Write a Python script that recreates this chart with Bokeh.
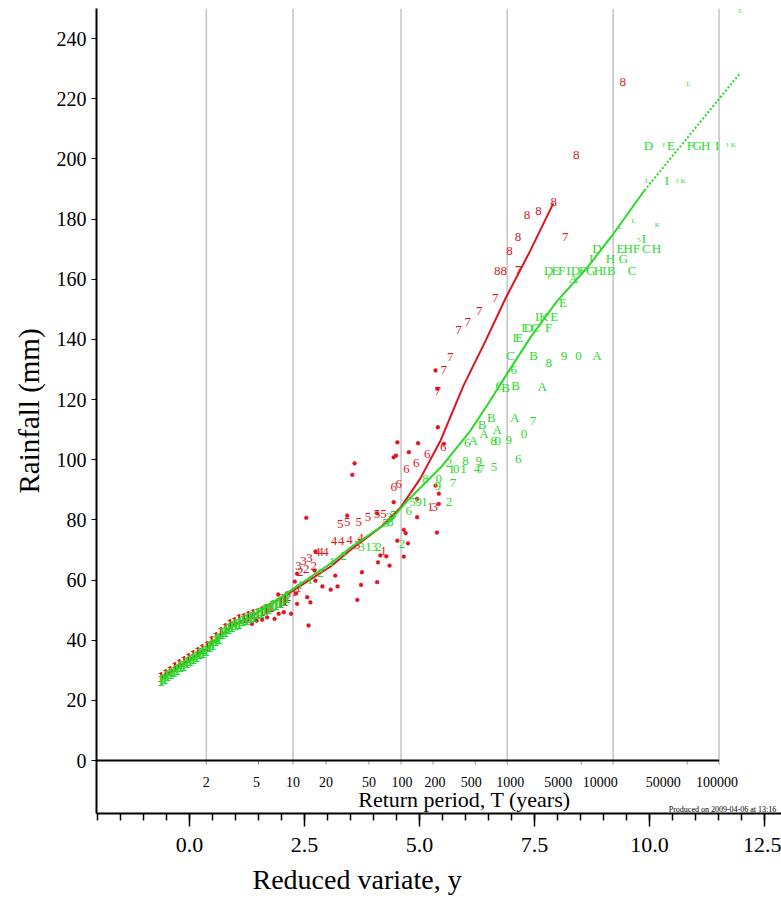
import numpy as np
from bokeh.plotting import figure
from bokeh.models import Range1d, FixedTicker, NumeralTickFormatter, Title
from bokeh.core.properties import value
from bokeh.embed import file_html
from bokeh.resources import INLINE

SERIF = "Liberation Serif"
RED = "#e0141e"
GREEN = "#28da28"
GRID = "#c8c8c8"

# ---------------------------------------------------------------- data
# Return-period scale (years) shown on the inner axis
return_periods = [2, 5, 10, 20, 50, 100, 200, 500, 1000, 5000, 10000, 50000, 100000]
return_period_labels = [str(t) for t in return_periods]
gridline_periods = [2, 10, 100, 1000, 10000, 100000]

rain_ticks = [0, 20, 40, 60, 80, 100, 120, 140, 160, 180, 200, 220, 240]
variate_ticks = [0.0, 2.5, 5.0, 7.5, 10.0, 12.5]
variate_minor_ticks = [-2.0, -1.5, -1.0, -0.5, 0.0, 0.5, 1.0, 1.5, 2.0, 2.5, 3.0, 3.5,
                       4.0, 4.5, 5.0, 5.5, 6.0, 6.5, 7.0, 7.5, 8.0, 8.5, 9.0, 9.5,
                       10.0, 10.5, 11.0, 11.5, 12.0, 12.5]

# fitted growth curves (reduced variate y, rainfall mm)
red_line_y = [-0.63, 0.35, 0.89, 1.33, 2.20, 3.07, 3.50, 4.15, 4.59, 5.02, 5.46,
              5.96, 6.44, 6.87, 7.41, 7.91]
red_line_rain = [27.3, 37.0, 44.5, 47.8, 56.0, 64.5, 70.0, 77.5, 84.1, 93.8, 106.4,
                 124.7, 139.6, 153.6, 169.5, 185.2]

green_line_y = [-0.63, 0.35, 0.89, 1.33, 2.20, 3.07, 3.50, 4.37, 4.74, 5.46, 6.11,
                6.54, 6.91, 7.41, 8.00, 8.65, 9.22, 9.89]
green_line_rain = [26.6, 36.6, 44.2, 47.5, 56.5, 65.5, 70.8, 79.8, 86.4, 97.4, 109.7,
                   119.7, 128.7, 140.6, 152.9, 163.9, 175.2, 189.5]

# extrapolated part of the green curve
green_ext_y = [9.89, 11.98]
green_ext_rain = [189.5, 228.7]

# dense run of ranked annual maxima at small return periods
green_band_y = [-0.62, -0.55, -0.48, -0.41, -0.34, -0.27, -0.20, -0.13, -0.06,
                0.01, 0.08, 0.15, 0.22, 0.29, 0.36, 0.43, 0.50, 0.57, 0.64,
                0.71, 0.78, 0.85, 0.92, 1.00, 1.08, 1.16, 1.24, 1.32, 1.40,
                1.48, 1.56, 1.64, 1.72, 1.80, 1.88, 1.96, 2.04, 2.12]
green_band_rain = [26.7, 27.4, 28.3, 28.8, 29.7, 30.3, 31.1, 31.7, 32.5,
                   33.1, 34.0, 34.5, 35.5, 36.0, 36.6, 37.8, 38.5, 39.8, 40.7,
                   42.1, 42.8, 43.9, 44.4, 45.3, 45.7, 46.6, 46.9, 47.6, 48.0,
                   48.9, 49.3, 50.1, 50.5, 51.4, 51.9, 52.7, 53.2, 54.1]

red_band_y = [-0.62, -0.52, -0.42, -0.32, -0.22, -0.12, -0.02, 0.08, 0.18, 0.28,
              0.38, 0.48, 0.58, 0.68, 0.78, 0.88, 0.98, 1.08, 1.18, 1.28,
              1.38, 1.48, 1.58, 1.68, 1.78, 1.88, 1.98, 2.08]
red_band_rain = [27.8, 28.9, 29.9, 31.0, 32.0, 33.1, 34.0, 35.1, 36.0, 37.1,
                 38.0, 39.6, 41.0, 42.6, 43.9, 45.3, 46.2, 46.9, 47.5, 48.0,
                 48.6, 49.2, 49.8, 50.3, 51.0, 51.6, 52.3, 52.9]

# single-site maxima (dots)
red_dot_y = [4.52, 4.97, 4.77, 4.49, 4.44, 3.59, 3.54, 2.54, 3.43, 4.08, 4.95,
             4.66, 4.70, 4.52, 4.75, 4.66, 2.74, 3.72, 4.15, 4.28, 4.10, 4.35,
             2.72, 3.17, 3.75, 2.89, 3.22, 3.73, 4.08, 3.07, 3.65, 2.56, 2.74,
             5.35, 5.39, 5.40, 5.42, 5.42, 4.95, 4.44, 5.53, 5.35, 5.38, 1.93,
             2.12, 2.32, 2.29, 2.34, 2.21, 2.05, 1.94, 1.85, 1.69, 1.58, 1.36,
             2.34, 2.59, 2.63, 1.46, 1.24]
red_dot_rain = [105.8, 105.5, 102.5, 101.4, 100.8, 98.8, 95.0, 80.7, 81.4, 82.2, 80.9,
                76.7, 75.6, 73.1, 72.2, 67.8, 69.5, 73.1, 68.2, 67.9, 65.9, 64.8,
                63.2, 61.5, 62.6, 57.9, 57.9, 58.4, 59.3, 56.8, 53.4, 54.3, 59.8,
                129.7, 123.6, 110.8, 88.7, 85.3, 87.0, 85.9, 105.3, 91.4, 75.8, 55.2,
                55.6, 55.6, 59.5, 62.1, 48.8, 49.3, 48.8, 47.1, 47.6, 46.8, 45.4,
                52.1, 44.9, 52.6, 46.5, 46.2]

# duration-coded maxima (red digits)
red_label = ["8", "8", "8", "8", "8", "8", "7", "8", "8", "8", "7",
             "7", "7", "7", "7", "7", "7", "7",
             "6", "6", "6", "6", "6", "6",
             "5", "5", "5", "5", "5", "5",
             "4", "4", "4", "4", "4", "4", "4",
             "3", "3", "3", "2", "2", "2", "3", "1", "1", "3",
             "2", "2", "1", "1"]
red_label_y = [9.42, 8.41, 7.92, 7.59, 7.34, 7.14, 8.17, 6.96, 6.69, 6.83, 7.15,
               6.65, 6.30, 6.05, 5.85, 5.67, 5.53, 5.40,
               5.52, 5.17, 4.93, 4.72, 4.44, 4.55,
               3.28, 3.43, 3.68, 3.88, 4.08, 4.22,
               3.14, 3.30, 3.48, 3.72, 2.78, 2.85, 2.96,
               2.37, 2.48, 2.61, 2.41, 2.54, 2.70, 3.65, 4.22, 5.24, 5.33,
               2.00, 2.15, 2.28, 2.37]
red_label_rain = [225.5, 201.4, 185.6, 182.8, 181.2, 174.0, 174.2, 169.3, 162.9, 162.9, 163.1,
                  153.8, 149.6, 145.7, 143.0, 134.3, 129.7, 123.0,
                  104.2, 102.0, 98.8, 97.0, 90.9, 92.0,
                  78.7, 79.2, 79.2, 81.1, 81.8, 82.1,
                  73.1, 73.1, 73.4, 74.0, 69.2, 69.2, 69.2,
                  64.8, 66.2, 67.2, 62.8, 63.8, 64.8, 71.5, 69.5, 84.2, 84.2,
                  53.9, 54.5, 55.9, 57.2]

# site-coded maxima (green characters)
green_label = ["D", "E", "F", "G", "H", "I",
               "I", "I",
               "D", "E", "H", "F", "C", "H",
               "I", "H", "G",
               "D", "E", "F", "I", "D", "F", "G", "H", "I", "B", "C",
               "A", "E",
               "I", "K", "E",
               "I", "D", "C", "F",
               "I", "E",
               "C", "B", "8", "9", "0", "A",
               "6",
               "C", "B", "B", "A",
               "B", "A", "7",
               "B", "A", "A",
               "6", "A", "8", "0", "9", "0",
               "6",
               "2", "8", "9",
               "1", "0", "1", "4", "7", "5",
               "8", "0", "9", "7",
               "2", "5", "9", "1",
               "6", "8", "5", "5", "3",
               "2", "2", "3", "1",
               "1", "1", "2", "1", "2", "3"]
green_label_y = [9.98, 10.47, 10.89, 11.04, 11.22, 11.47,
                 10.38, 9.88,
                 8.86, 9.37, 9.54, 9.72, 9.93, 10.15,
                 8.73, 9.15, 9.43,
                 7.81, 7.96, 8.09, 8.24, 8.39, 8.54, 8.72, 8.89, 9.02, 9.17, 9.62,
                 8.35, 8.12,
                 7.56, 7.70, 7.93,
                 7.26, 7.37, 7.52, 7.81,
                 7.07, 7.17,
                 6.98, 7.48, 7.81, 8.14, 8.46, 8.86,
                 7.05,
                 6.75, 6.87, 7.09, 7.67,
                 6.56, 7.07, 7.47,
                 6.36, 6.69, 6.40,
                 6.04, 6.17, 6.61, 6.70, 6.94, 7.27,
                 7.15,
                 5.64, 6.00, 6.29,
                 5.70, 5.80, 5.96, 6.25, 6.35, 6.62,
                 5.13, 5.42, 5.40, 5.73,
                 5.64, 4.85, 4.98, 5.11,
                 4.77, 4.37, 4.26, 4.43, 4.33,
                 4.62, 4.11, 4.02, 3.89,
                 2.41, 2.62, 2.85, 3.10, 3.35, 3.74]
green_label_rain = [204.5, 204.5, 204.5, 204.5, 204.5, 204.5,
                    192.8, 173.4,
                    170.1, 170.2, 170.2, 170.2, 170.2, 170.2,
                    166.8, 166.8, 166.8,
                    162.9, 162.9, 162.9, 162.9, 162.9, 162.9, 162.9, 162.9, 162.9, 162.9, 162.9,
                    160.2, 152.4,
                    147.6, 147.6, 147.6,
                    143.8, 143.8, 143.8, 144.0,
                    140.7, 140.7,
                    134.6, 134.6, 132.1, 134.6, 134.6, 134.6,
                    129.7,
                    124.7, 124.0, 124.7, 124.3,
                    114.1, 114.1, 113.0,
                    111.7, 109.9, 108.6,
                    105.5, 106.4, 106.2, 106.2, 106.4, 108.6,
                    100.3,
                    98.8, 99.5, 99.5,
                    97.0, 97.0, 97.0, 97.0, 97.0, 97.5,
                    93.6, 93.6, 91.4, 92.2,
                    85.9, 85.9, 85.9, 85.9,
                    83.1, 79.2, 79.1, 81.5, 80.8,
                    72.0, 70.9, 70.9, 70.9,
                    58.2, 60.0, 62.5, 66.0, 68.0, 71.1]

# small-print site codes of the longest durations
green_small_label = ["L", "L", "I", "J", "K", "L", "J", "K", "L", "L", "K", "5", "E"]
green_small_y = [11.98, 10.85, 10.31, 11.69, 11.82, 9.95, 10.60, 10.73, 9.65, 9.37,
                 10.17, 9.77, 7.83]
green_small_rain = [249.3, 225.0, 204.5, 204.5, 204.5, 192.8, 192.8, 192.8, 179.5,
                    177.5, 177.9, 172.9, 160.9]


def reduced_variate(T):
    """Gumbel reduced variate for a return period T (years)."""
    T = np.asarray(T, dtype=float)
    return -np.log(-np.log(1.0 - 1.0 / T))


# ---------------------------------------------------------------- figure
p = figure(width=781, height=901, title=None,
           output_backend="svg", toolbar_location=None,
           x_range=Range1d(-2.02, 12.87), y_range=Range1d(-17.6, 250),
           min_border_left=96, min_border_right=0,
           min_border_top=8, min_border_bottom=88)
p.outline_line_color = None
p.xgrid.visible = False
p.ygrid.visible = False
p.background_fill_color = "white"
p.border_fill_color = "white"

# left (rainfall) axis
ya = p.yaxis[0]
ya.ticker = FixedTicker(ticks=rain_ticks, minor_ticks=[])
ya.axis_label = "Rainfall (mm)"
ya.axis_label_text_font = SERIF
ya.axis_label_text_font_size = "29px"
ya.axis_label_text_font_style = "normal"
ya.axis_label_text_color = "black"
ya.axis_label_standoff = 9
ya.major_label_text_font = SERIF
ya.major_label_text_font_size = "20px"
ya.major_label_text_color = "black"
ya.major_label_standoff = 5
ya.axis_line_width = 2
ya.axis_line_color = "black"
ya.major_tick_line_color = "black"
ya.major_tick_out = 5
ya.major_tick_in = 0
ya.minor_tick_out = 0
ya.minor_tick_in = 0

# bottom (reduced variate) axis
xa = p.xaxis[0]
xa.ticker = FixedTicker(ticks=variate_ticks, minor_ticks=variate_minor_ticks)
xa.formatter = NumeralTickFormatter(format="0.0")
xa.major_label_text_font = SERIF
xa.major_label_text_font_size = "22px"
xa.major_label_text_color = "black"
xa.major_label_standoff = 11
xa.axis_line_width = 2
xa.axis_line_color = "black"
xa.major_tick_line_color = "black"
xa.minor_tick_line_color = "black"
xa.major_tick_line_width = 1.5
xa.minor_tick_line_width = 1.5
xa.major_tick_out = 13
xa.major_tick_in = 0
xa.minor_tick_out = 7
xa.minor_tick_in = 0

p.add_layout(Title(text="Reduced variate, y", align="left", offset=156,
                   text_font=SERIF, text_font_size="28px",
                   text_font_style="normal", text_color="black",
                   standoff=14, vertical_align="bottom"),
             "below")

# return-period gridlines, inner axis and its labels
grid_x = reduced_variate(gridline_periods)
p.segment(x0=grid_x, y0=0, x1=grid_x, y1=250, line_color=GRID, line_width=1.6)

rp_x = reduced_variate(return_periods)
p.segment(x0=rp_x, y0=0, x1=rp_x, y1=-1.4, line_color="#9a9a9a", line_width=1)
p.segment(x0=[-2.02], y0=[0], x1=[reduced_variate(100000)], y1=[0],
          line_color="black", line_width=2)

rp_label_shift = [0, -2, 0, 0, 0, 1, 2, -4, 3, -23, -13, -24, -2]
p.text(x=rp_x, y=np.zeros(len(rp_x)), text=return_period_labels,
       x_offset=rp_label_shift, y_offset=21,
       text_font=value(SERIF), text_font_size="14px", text_color="black",
       text_align="center", text_baseline="alphabetic")
p.text(x=[5.98], y=[0], text=["Return period, T (years)"], y_offset=39,
       text_font=value(SERIF), text_font_size="22px", text_color="black",
       text_align="center", text_baseline="alphabetic")

# footnote in the free corner above the reduced-variate axis
p.text(x=[12.80], y=[0], text=["Produced on 2009-04-06  at 13:16"], y_offset=49,
       text_font=value(SERIF), text_font_size="8px", text_color="black",
       text_align="right", text_baseline="alphabetic")

# red series
p.scatter(x=red_dot_y, y=red_dot_rain, marker="circle", size=3.8,
          fill_color=RED, line_color=RED, line_width=0.5)
p.text(x=red_band_y, y=red_band_rain, text=["1"] * len(red_band_y),
       text_font=value(SERIF), text_font_size="15px", text_font_style="bold",
       text_color=RED, text_align="center", text_baseline="middle")
p.text(x=red_label_y, y=red_label_rain, text=red_label,
       text_font=value(SERIF), text_font_size="13px", text_color=RED,
       text_align="center", text_baseline="middle")
p.line(x=red_line_y, y=red_line_rain, line_color=RED, line_width=2)

# green series
p.text(x=green_band_y, y=green_band_rain, text=["1"] * len(green_band_y),
       text_font=value(SERIF), text_font_size="16px", text_font_style="bold",
       text_color=GREEN, text_align="center", text_baseline="middle")
p.text(x=green_label_y, y=green_label_rain, text=green_label,
       text_font=value(SERIF), text_font_size="13px", text_color=GREEN,
       text_align="center", text_baseline="middle")
p.text(x=green_small_y, y=green_small_rain, text=green_small_label,
       text_font=value(SERIF), text_font_size="7px", text_color=GREEN,
       text_align="center", text_baseline="middle")
p.line(x=green_line_y, y=green_line_rain, line_color=GREEN, line_width=2)
p.line(x=green_ext_y, y=green_ext_rain, line_color=GREEN, line_width=2,
       line_dash="2 2")

open("out.html", "w").write(file_html(p, INLINE))
